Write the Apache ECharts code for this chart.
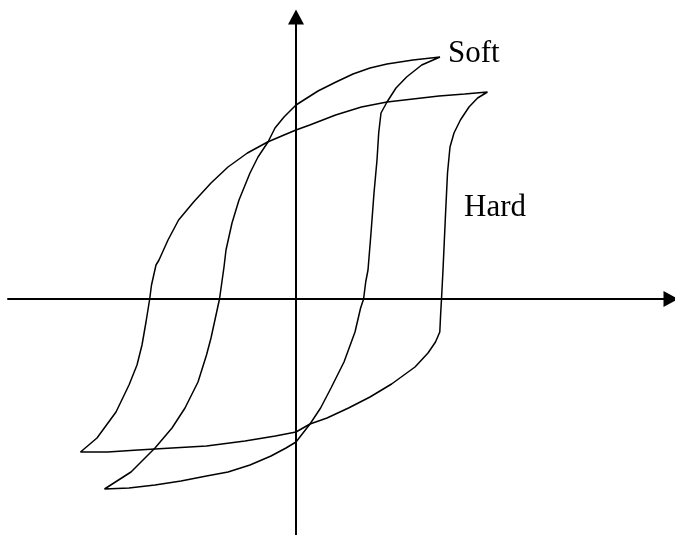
<!DOCTYPE html>
<html>
<head>
<meta charset="utf-8">
<script src="https://cdn.jsdelivr.net/npm/echarts@6/dist/echarts.min.js"></script>
<style>
  html, body { margin: 0; padding: 0; background: #fff; }
  #chart { width: 675px; height: 535px; }
</style>
</head>
<body>
<div id="chart"></div>
<script>
// loop points as [H, B], origin at the axis crossing
const softUpper = [
  [144, 242], [117, 239], [91, 235], [74, 231], [57, 225], [40, 217], [22, 208],
  [0, 194], [-12, 182], [-21, 171], [-28, 157], [-38, 142], [-46, 126], [-57, 99],
  [-64, 76], [-70, 49], [-72, 32], [-76.5, 0], [-85, -39], [-89.5, -56], [-98, -83],
  [-111, -109], [-124, -129], [-141, -149], [-165, -173], [-191.5, -190]
];
const softLower = [
  [-167, -189], [-141, -186], [-115, -182], [-89.5, -177], [-68, -173], [-46, -166],
  [-25, -157], [-10, -149], [0, -143], [7, -134], [14, -125], [24.6, -109], [35, -89],
  [48, -63], [59, -33], [64.6, -9], [67.6, 0], [69.7, 17], [72, 29], [75, 66],
  [78, 106], [81, 139], [82.7, 166], [85, 186], [91, 197], [100, 211], [110.6, 222],
  [125.7, 234], [144, 242]
];
const hardUpper = [
  [191.5, 207], [168.7, 205], [143, 203], [117, 200], [91, 197], [65.4, 192],
  [39.6, 184], [13.8, 174], [0, 169], [-12, 164], [-28.4, 157], [-48.6, 146],
  [-68, 132], [-85, 116], [-102.4, 97], [-117.4, 79], [-128, 59], [-137, 39],
  [-140, 34], [-144.5, 14], [-146.3, 0], [-150, -23], [-154, -46], [-159, -66],
  [-167, -86], [-180, -113], [-199, -139], [-215.5, -153]
];
const hardLower = [
  [-188.4, -153], [-158, -151], [-124, -149], [-89.5, -147], [-51, -142],
  [-20.6, -137], [0, -133], [14, -125], [31, -119], [52.5, -109], [74, -98],
  [95.6, -85], [119, -68], [132, -54], [139.5, -43], [143.8, -33], [144.6, -16],
  [145.5, 0], [147, 29], [149.4, 82], [151.5, 126], [154, 152], [158, 166],
  [164.4, 179], [173, 192], [181.6, 201], [191.5, 207]
];
const loopNames = ['Soft', 'Hard'];

const chart = echarts.init(document.getElementById('chart'));

const axisCommon = {
  type: 'value',
  axisLine: {
    onZero: true,
    symbol: ['none', 'triangle'],
    symbolSize: [16, 15],
    lineStyle: { color: '#000', width: 2 }
  },
  axisTick: { show: false },
  axisLabel: { show: false },
  splitLine: { show: false }
};

const lineStyle = { color: '#000', width: 1.5 };
const labelFont = '31px "Liberation Serif", serif';

chart.setOption({
  animation: false,
  backgroundColor: '#fff',
  grid: { left: 8, right: 4, top: 17, bottom: 0, containLabel: false },
  xAxis: Object.assign({}, axisCommon, { min: -288, max: 375 }),
  yAxis: Object.assign({}, axisCommon, { min: -236, max: 282 }),
  graphic: [
    {
      type: 'text',
      x: 448,
      y: 54,
      style: { text: loopNames[0], font: labelFont, fill: '#000', verticalAlign: 'middle' }
    },
    {
      type: 'text',
      x: 464,
      y: 208,
      style: { text: loopNames[1], font: labelFont, fill: '#000', verticalAlign: 'middle' }
    }
  ],
  series: [
    {
      name: loopNames[0],
      type: 'line',
      showSymbol: false,
      clip: false,
      lineStyle: lineStyle,
      data: softUpper.concat(softLower)
    },
    {
      name: loopNames[1],
      type: 'line',
      showSymbol: false,
      clip: false,
      lineStyle: lineStyle,
      data: hardUpper.concat(hardLower)
    }
  ]
});
</script>
</body>
</html>
